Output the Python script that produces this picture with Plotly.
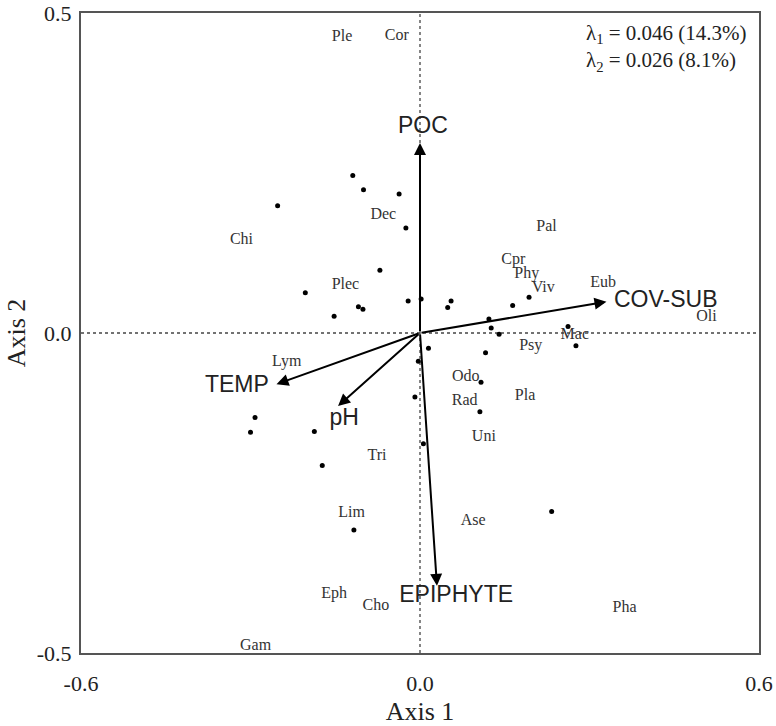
import plotly.graph_objects as go

# Sample scores (dots)
site_x = [-0.119, -0.100, -0.037, -0.252, -0.025, -0.071, -0.203, -0.021, 0.002, 0.055,
          0.049, -0.109, -0.101, -0.152, 0.015, 0.164, 0.193, 0.122, 0.126, 0.140,
          0.262, 0.276, 0.116, -0.003, -0.009, -0.292, -0.300, -0.187, 0.006, -0.173,
          0.108, 0.106, 0.233, -0.117]
site_y = [0.246, 0.224, 0.217, 0.199, 0.164, 0.098, 0.063, 0.050, 0.053, 0.050,
          0.040, 0.041, 0.037, 0.026, -0.024, 0.043, 0.056, 0.022, 0.008, -0.002,
          0.010, -0.020, -0.031, -0.044, -0.100, -0.132, -0.155, -0.154, -0.173, -0.207,
          -0.077, -0.123, -0.279, -0.308]

# Taxa scores (labels)
taxa = ["Ple", "Cor", "Dec", "Chi", "Plec", "Pal", "Cpr", "Phy", "Viv", "Eub", "Oli", "Mac",
        "Psy", "Lym", "Tri", "Lim", "Odo", "Rad", "Pla", "Uni", "Ase", "Eph", "Cho", "Pha", "Gam"]
taxa_x = [-0.138, -0.041, -0.065, -0.316, -0.132, 0.224, 0.165, 0.189, 0.218, 0.324, 0.507, 0.274,
          0.196, -0.236, -0.076, -0.121, 0.081, 0.079, 0.186, 0.113, 0.094, -0.152, -0.078, 0.362, -0.291]
taxa_y = [0.4625, 0.464, 0.184, 0.146, 0.075, 0.166, 0.114, 0.092, 0.070, 0.078, 0.025, -0.003,
          -0.020, -0.046, -0.192, -0.281, -0.068, -0.107, -0.098, -0.162, -0.293, -0.408, -0.427, -0.430, -0.489]

# Environmental vectors
env = ["POC", "COV-SUB", "TEMP", "pH", "EPIPHYTE"]
env_x = [0.0, 0.330, -0.254, -0.145, 0.030]
env_y = [0.297, 0.049, -0.080, -0.114, -0.395]
env_label_x = [0.005, 0.435, -0.324, -0.134, 0.064]
env_label_y = [0.322, 0.049, -0.083, -0.135, -0.412]

x_ticks = [-0.6, 0.0, 0.6]
x_ticklabels = ["-0.6", "0.0", "0.6"]
y_ticks = [-0.5, 0.0, 0.5]
y_ticklabels = ["-0.5", "0.0", "0.5"]

eigen_text = "λ<sub>1</sub> = 0.046 (14.3%)<br>λ<sub>2</sub> = 0.026 (8.1%)"

SERIF = "Liberation Serif, Times New Roman, serif"
SANS = "Liberation Sans, Arial, sans-serif"

fig = go.Figure()

fig.add_trace(go.Scatter(x=site_x, y=site_y, mode="markers",
                         marker=dict(color="black", size=5), showlegend=False, hoverinfo="skip"))

fig.add_trace(go.Scatter(x=taxa_x, y=taxa_y, mode="text", text=taxa,
                         textposition="middle center",
                         textfont=dict(family=SERIF, size=16, color="#333333"),
                         showlegend=False, hoverinfo="skip"))

fig.add_trace(go.Scatter(x=env_label_x, y=env_label_y, mode="text", text=env,
                         textposition="middle center",
                         textfont=dict(family=SANS, size=23, color="#222222"),
                         showlegend=False, hoverinfo="skip"))

for ex, ey in zip(env_x, env_y):
    fig.add_annotation(x=ex, y=ey, ax=0, ay=0, xref="x", yref="y", axref="x", ayref="y",
                       showarrow=True, arrowhead=2, arrowsize=1.2, arrowwidth=2,
                       arrowcolor="black", text="")

# zero reference lines
fig.add_shape(type="line", x0=0, x1=0, y0=-0.5, y1=0.5, xref="x", yref="y",
              line=dict(color="#444444", width=1.3, dash="dot"), layer="below")
fig.add_shape(type="line", x0=-0.6, x1=0.6, y0=0, y1=0, xref="x", yref="y",
              line=dict(color="#444444", width=1.3, dash="dot"), layer="below")

fig.add_annotation(x=0.29, y=0.49, xref="x", yref="y", text=eigen_text, showarrow=False,
                   xanchor="left", yanchor="top", align="left",
                   font=dict(family=SERIF, size=21, color="#222222"))

fig.update_layout(
    width=776, height=726,
    margin=dict(l=81, r=17, t=13, b=73),
    plot_bgcolor="white", paper_bgcolor="white",
    xaxis=dict(range=[-0.6, 0.6], tickvals=x_ticks, ticktext=x_ticklabels,
               showgrid=False, zeroline=False, showline=True, mirror=True, automargin=False,
               linecolor="#555555", linewidth=2, ticks="", ticklabelstandoff=10,
               ticklabeloverflow="allow",
               tickfont=dict(family=SERIF, size=22, color="#222222"),
               title=dict(text="Axis 1", font=dict(family=SERIF, size=26, color="#222222"),
                          standoff=16)),
    yaxis=dict(range=[-0.5, 0.5], tickvals=y_ticks, ticktext=y_ticklabels,
               showgrid=False, zeroline=False, showline=True, mirror=True, automargin=False,
               linecolor="#555555", linewidth=2, ticks="", ticklabelstandoff=3,
               ticklabeloverflow="allow",
               tickfont=dict(family=SERIF, size=22, color="#222222"),
               title=dict(text="Axis 2", font=dict(family=SERIF, size=26, color="#222222"),
                          standoff=4)),
)

# remove the browser's default 8px body margin so the figure fills the window exactly
fig.write_html("out.html", config={"displayModeBar": False},
               post_script="document.body.style.margin='0';")
